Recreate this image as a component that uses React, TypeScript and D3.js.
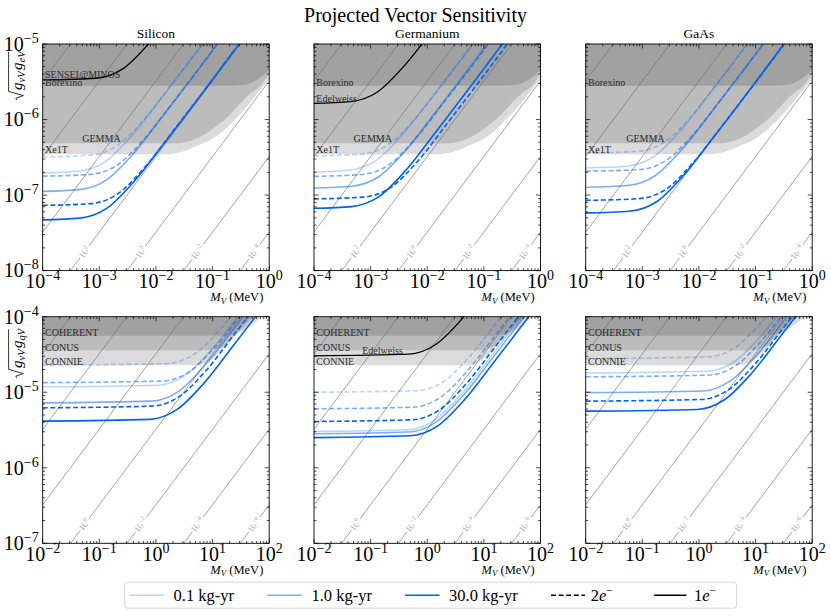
import React, { useLayoutEffect, useRef, useState } from "react";
import * as d3 from "d3";

type Pt = [number, number];

const W = 831;
const H = 616;
const FONT = "'Liberation Serif', 'DejaVu Serif', serif";

// ---------- axes ----------
const topXDomain: Pt = [1e-4, 1];
const topYDomain: Pt = [1e-8, 1e-5];
const botXDomain: Pt = [1e-2, 1e2];
const botYDomain: Pt = [1e-7, 1e-4];

// ---------- panel titles / legend labels ----------
const materials = ["Silicon", "Germanium", "GaAs"];
const exposures = ["0.1 kg-yr", "1.0 kg-yr", "30.0 kg-yr"];
const thresholds = ["2", "1"]; // 2e-, 1e-

// ---------- iso lines (ratio g/M_V) and their labels ----------
const isoTop = [3.24e-2, 3.24e-3, 3.24e-4, 3.24e-5, 3.24e-6, 3.24e-7, 3.24e-8];
const isoTopLabels: [number, string][] = [[3.24e-5, "2"], [3.24e-6, "0"], [3.24e-7, "−2"], [3.24e-8, "−4"]];
const isoBot = [3.24e-3, 3.24e-4, 3.24e-5, 3.24e-6, 3.24e-7, 3.24e-8, 3.24e-9];
const isoBotLabels: [number, string][] = [[3.24e-6, "0"], [3.24e-7, "−2"], [3.24e-8, "−4"], [3.24e-9, "−6"]];

// ---------- existing constraints (lower boundaries of excluded regions) ----------
const borexino: Pt[] = [[1e-4, 2.8e-6], [0.2, 2.8e-6], [0.35, 2.86e-6], [0.5, 3.1e-6], [0.7, 3.6e-6], [1, 4.55e-6]];
const gemma: Pt[] = [[1e-4, 4.87e-7], [2.5e-2, 4.87e-7], [4e-2, 5.2e-7], [6.3e-2, 6.0e-7], [0.119, 8.3e-7], [0.2, 1.15e-6], [0.31, 1.64e-6], [0.46, 2.2e-6], [0.69, 2.75e-6], [1, 4.1e-6]];
const xe1t: Pt[] = [[1e-4, 3.48e-7], [1.58e-2, 3.48e-7], [2.8e-2, 3.72e-7], [5.6e-2, 4.57e-7], [0.117, 6.03e-7], [0.224, 9.3e-7], [0.4, 1.48e-6], [0.69, 2.45e-6], [1, 3.39e-6]];
const coherent: Pt[] = [[1e-2, 5.6e-5], [15, 5.6e-5], [25, 6.0e-5], [40, 7.0e-5], [60, 8.8e-5], [72, 1.0e-4]];
const conus: Pt[] = [[1e-2, 3.6e-5], [8, 3.6e-5], [14, 3.9e-5], [22, 5.0e-5], [40, 7.8e-5], [55, 1.0e-4]];
const connie: Pt[] = [[1e-2, 2.28e-5], [5, 2.28e-5], [8, 2.5e-5], [13.6, 3.4e-5], [27, 6.3e-5], [50, 1.0e-4]];

// ---------- 1e- curves (black) ----------
const senseiMinosSi: Pt[] = [[1e-4, 3.34e-6], [8.8e-4, 3.52e-6], [2.63e-3, 4.72e-6], [7.9e-3, 1.06e-5], [2.63e-2, 3.34e-5]];
const edelweissGeTop: Pt[] = [[1e-4, 1.64e-6], [4.4e-4, 1.73e-6], [1.32e-3, 2.32e-6], [3.96e-3, 5.18e-6], [1.32e-2, 1.64e-5]];
const edelweissGeBot: Pt[] = [[1e-2, 3.03e-5], [0.47, 3.19e-5], [1.41, 4.28e-5], [4.23, 9.57e-5], [14.1, 3.03e-4]];

// ---------- projected sensitivities: electron couplings (top row) ----------
const siTopLight: Pt[] = [[1e-4, 1.96e-7], [4.2e-4, 2.07e-7], [1.27e-3, 2.77e-7], [3.8e-3, 6.2e-7], [1.27e-2, 1.96e-6], [1.27, 1.96e-4]];
const siTopLight2e: Pt[] = [[1e-4, 3.2e-7], [6.9e-4, 3.37e-7], [2.07e-3, 4.52e-7], [6.2e-3, 1.01e-6], [2.07e-2, 3.2e-6], [2.07, 3.2e-4]];
const siTopMed: Pt[] = [[1e-4, 1.12e-7], [4.4e-4, 1.18e-7], [1.33e-3, 1.58e-7], [4.0e-3, 3.54e-7], [1.33e-2, 1.12e-6], [1.33, 1.12e-4]];
const siTopMed2e: Pt[] = [[1e-4, 1.78e-7], [7.0e-4, 1.88e-7], [2.11e-3, 2.52e-7], [6.3e-3, 5.62e-7], [2.11e-2, 1.78e-6], [2.11, 1.78e-4]];
const siTopDark: Pt[] = [[1e-4, 4.7e-8], [4.5e-4, 4.95e-8], [1.35e-3, 6.65e-8], [4.05e-3, 1.49e-7], [1.35e-2, 4.7e-7], [1.35, 4.7e-5]];
const siTopDark2e: Pt[] = [[1e-4, 7.3e-8], [7.0e-4, 7.7e-8], [2.09e-3, 1.03e-7], [6.3e-3, 2.31e-7], [2.09e-2, 7.3e-7], [2.09, 7.3e-5]];

const geTopLight: Pt[] = [[1e-4, 2.02e-7], [4.1e-4, 2.13e-7], [1.24e-3, 2.86e-7], [3.7e-3, 6.4e-7], [1.24e-2, 2.02e-6], [1.24, 2.02e-4]];
const geTopLight2e: Pt[] = [[1e-4, 3.3e-7], [6.9e-4, 3.48e-7], [2.08e-3, 4.67e-7], [6.2e-3, 1.04e-6], [2.08e-2, 3.3e-6], [2.08, 3.3e-4]];
const geTopMed: Pt[] = [[1e-4, 1.24e-7], [4.6e-4, 1.31e-7], [1.39e-3, 1.75e-7], [4.2e-3, 3.92e-7], [1.39e-2, 1.24e-6], [1.39, 1.24e-4]];
const geTopMed2e: Pt[] = [[1e-4, 1.77e-7], [6.9e-4, 1.87e-7], [2.08e-3, 2.5e-7], [6.2e-3, 5.6e-7], [2.08e-2, 1.77e-6], [2.08, 1.77e-4]];
const geTopDark: Pt[] = [[1e-4, 6.68e-8], [4.6e-4, 7.04e-8], [1.38e-3, 9.45e-8], [4.14e-3, 2.11e-7], [1.38e-2, 6.68e-7], [1.38, 6.68e-5]];
const geTopDark2e: Pt[] = [[1e-4, 8.9e-8], [7.5e-4, 9.4e-8], [2.26e-3, 1.26e-7], [6.8e-3, 2.81e-7], [2.26e-2, 8.9e-7], [2.26, 8.9e-5]];

const gaTopLight: Pt[] = [[1e-4, 2.29e-7], [5.3e-4, 2.41e-7], [1.6e-3, 3.24e-7], [4.8e-3, 7.24e-7], [1.6e-2, 2.29e-6], [1.6, 2.29e-4]];
const gaTopLight2e: Pt[] = [[1e-4, 3.6e-7], [8.4e-4, 3.79e-7], [2.52e-3, 5.09e-7], [7.6e-3, 1.14e-6], [2.52e-2, 3.6e-6], [2.52, 3.6e-4]];
const gaTopMed: Pt[] = [[1e-4, 1.27e-7], [5.6e-4, 1.34e-7], [1.68e-3, 1.8e-7], [5.0e-3, 4.01e-7], [1.68e-2, 1.27e-6], [1.68, 1.27e-4]];
const gaTopMed2e: Pt[] = [[1e-4, 2.07e-7], [9.1e-4, 2.18e-7], [2.74e-3, 2.93e-7], [8.2e-3, 6.54e-7], [2.74e-2, 2.07e-6], [2.74, 2.07e-4]];
const gaTopDark: Pt[] = [[1e-4, 5.81e-8], [6.0e-4, 6.12e-8], [1.81e-3, 8.22e-8], [5.4e-3, 1.84e-7], [1.81e-2, 5.81e-7], [1.81, 5.81e-5]];
const gaTopDark2e: Pt[] = [[1e-4, 8.51e-8], [8.8e-4, 8.97e-8], [2.65e-3, 1.2e-7], [7.9e-3, 2.69e-7], [2.65e-2, 8.51e-7], [2.65, 8.51e-5]];

// ---------- projected sensitivities: quark couplings (bottom row) ----------
const siBotLight: Pt[] = [[1e-2, 1.18e-5], [1.09, 1.24e-5], [3.27, 1.67e-5], [9.8, 3.73e-5], [32.7, 1.18e-4], [3270, 1.18e-2]];
const siBotLight2e: Pt[] = [[1e-2, 2.28e-5], [1.61, 2.4e-5], [4.83, 3.22e-5], [14.5, 7.2e-5], [48.3, 2.28e-4], [4830, 2.28e-2]];
const siBotMed: Pt[] = [[1e-2, 7.24e-6], [0.82, 7.63e-6], [2.47, 1.02e-5], [7.4, 2.29e-5], [24.7, 7.24e-5], [2470, 7.24e-3]];
const siBotMed2e: Pt[] = [[1e-2, 1.34e-5], [1.32, 1.41e-5], [3.96, 1.89e-5], [11.9, 4.23e-5], [39.6, 1.34e-4], [3960, 1.34e-2]];
const siBotDark: Pt[] = [[1e-2, 4.15e-6], [0.78, 4.37e-6], [2.33, 5.87e-6], [7.0, 1.31e-5], [23.3, 4.15e-5], [2330, 4.15e-3]];
const siBotDark2e: Pt[] = [[1e-2, 6.22e-6], [0.86, 6.56e-6], [2.59, 8.8e-6], [7.8, 1.97e-5], [25.9, 6.22e-5], [2590, 6.22e-3]];

const geBotLight: Pt[] = [[1e-2, 3.02e-6], [0.45, 3.18e-6], [1.35, 4.27e-6], [4.05, 9.54e-6], [13.5, 3.02e-5], [1350, 3.02e-3]];
const geBotLight2e: Pt[] = [[1e-2, 1.0e-5], [0.67, 1.05e-5], [2.0, 1.41e-5], [6.0, 3.16e-5], [20, 1.0e-4], [2000, 1.0e-2]];
const geBotMed: Pt[] = [[1e-2, 2.82e-6], [0.47, 2.97e-6], [1.41, 3.99e-6], [4.23, 8.91e-6], [14.1, 2.82e-5], [1410, 2.82e-3]];
const geBotMed2e: Pt[] = [[1e-2, 6.03e-6], [0.57, 6.36e-6], [1.7, 8.53e-6], [5.1, 1.91e-5], [17, 6.03e-5], [1700, 6.03e-3]];
const geBotDark: Pt[] = [[1e-2, 2.51e-6], [0.5, 2.65e-6], [1.51, 3.55e-6], [4.53, 7.93e-6], [15.1, 2.51e-5], [1510, 2.51e-3]];
const geBotDark2e: Pt[] = [[1e-2, 4.1e-6], [0.54, 4.32e-6], [1.63, 5.8e-6], [4.9, 1.3e-5], [16.3, 4.1e-5], [1630, 4.1e-3]];

const gaBotLight: Pt[] = [[1e-2, 1.8e-5], [1.43, 1.9e-5], [4.28, 2.55e-5], [12.8, 5.69e-5], [42.8, 1.8e-4], [4280, 1.8e-2]];
const gaBotLight2e: Pt[] = [[1e-2, 2.79e-5], [1.47, 2.94e-5], [4.42, 3.95e-5], [13.3, 8.82e-5], [44.2, 2.79e-4], [4420, 2.79e-2]];
const gaBotMed: Pt[] = [[1e-2, 9.9e-6], [1.17, 1.04e-5], [3.52, 1.4e-5], [10.6, 3.13e-5], [35.2, 9.9e-5], [3520, 9.9e-3]];
const gaBotMed2e: Pt[] = [[1e-2, 1.6e-5], [1.5, 1.69e-5], [4.5, 2.26e-5], [13.5, 5.06e-5], [45, 1.6e-4], [4500, 1.6e-2]];
const gaBotDark: Pt[] = [[1e-2, 5.62e-6], [0.94, 5.92e-6], [2.82, 7.95e-6], [8.5, 1.78e-5], [28.2, 5.62e-5], [2820, 5.62e-3]];
const gaBotDark2e: Pt[] = [[1e-2, 7.62e-6], [1.11, 8.03e-6], [3.33, 1.08e-5], [10, 2.41e-5], [33.3, 7.62e-5], [3330, 7.62e-3]];

// ---------- styling ----------
const BLUE = "rgb(0,98,240)";
const toneOpacity = [0.27, 0.52, 1];
const colLeft = [42.7, 314, 585.7];
const rowTop = [44, 316.7];
const PW = 226.5;
const PH = 226.6;

type Curve = { pts: Pt[]; tone: number; dashed: boolean };
type PanelSpec = {
  row: number;
  col: number;
  regions: Pt[][];
  curves: Curve[];
  black?: Pt[];
  labels: { text: string; at: Pt }[];
};

const mk = (l: Pt[], l2: Pt[], m: Pt[], m2: Pt[], d: Pt[], d2: Pt[]): Curve[] => [
  { pts: l, tone: 0, dashed: false },
  { pts: l2, tone: 0, dashed: true },
  { pts: m, tone: 1, dashed: false },
  { pts: m2, tone: 1, dashed: true },
  { pts: d2, tone: 2, dashed: true },
  { pts: d, tone: 2, dashed: false },
];

const topRegions = [xe1t, gemma, borexino];
const botRegions = [connie, conus, coherent];

const panels: PanelSpec[] = [
  {
    row: 0, col: 0, regions: topRegions,
    curves: mk(siTopLight, siTopLight2e, siTopMed, siTopMed2e, siTopDark, siTopDark2e),
    black: senseiMinosSi,
    labels: [
      { text: "SENSEI@MINOS", at: [1.1e-4, 3.5e-6] },
      { text: "Borexino", at: [1.1e-4, 2.82e-6] },
      { text: "GEMMA", at: [5e-4, 5.1e-7] },
      { text: "Xe1T", at: [1.1e-4, 3.62e-7] },
    ],
  },
  {
    row: 0, col: 1, regions: topRegions,
    curves: mk(geTopLight, geTopLight2e, geTopMed, geTopMed2e, geTopDark, geTopDark2e),
    black: edelweissGeTop,
    labels: [
      { text: "Borexino", at: [1.1e-4, 2.82e-6] },
      { text: "Edelweiss", at: [1.1e-4, 1.72e-6] },
      { text: "GEMMA", at: [5e-4, 5.1e-7] },
      { text: "Xe1T", at: [1.1e-4, 3.62e-7] },
    ],
  },
  {
    row: 0, col: 2, regions: topRegions,
    curves: mk(gaTopLight, gaTopLight2e, gaTopMed, gaTopMed2e, gaTopDark, gaTopDark2e),
    labels: [
      { text: "Borexino", at: [1.1e-4, 2.82e-6] },
      { text: "GEMMA", at: [5.2e-4, 5.1e-7] },
      { text: "Xe1T", at: [1.1e-4, 3.62e-7] },
    ],
  },
  {
    row: 1, col: 0, regions: botRegions,
    curves: mk(siBotLight, siBotLight2e, siBotMed, siBotMed2e, siBotDark, siBotDark2e),
    labels: [
      { text: "COHERENT", at: [1.1e-2, 5.5e-5] },
      { text: "CONUS", at: [1.1e-2, 3.55e-5] },
      { text: "CONNIE", at: [1.1e-2, 2.32e-5] },
    ],
  },
  {
    row: 1, col: 1, regions: botRegions,
    curves: mk(geBotLight, geBotLight2e, geBotMed, geBotMed2e, geBotDark, geBotDark2e),
    black: edelweissGeBot,
    labels: [
      { text: "COHERENT", at: [1.1e-2, 5.5e-5] },
      { text: "CONUS", at: [1.1e-2, 3.55e-5] },
      { text: "CONNIE", at: [1.1e-2, 2.32e-5] },
      { text: "Edelweiss", at: [7.1e-2, 3.2e-5] },
    ],
  },
  {
    row: 1, col: 2, regions: botRegions,
    curves: mk(gaBotLight, gaBotLight2e, gaBotMed, gaBotMed2e, gaBotDark, gaBotDark2e),
    labels: [
      { text: "COHERENT", at: [1.1e-2, 5.5e-5] },
      { text: "CONUS", at: [1.1e-2, 3.55e-5] },
      { text: "CONNIE", at: [1.1e-2, 2.32e-5] },
    ],
  },
];

const expStr = (e: number) => (e < 0 ? "−" + Math.abs(e) : String(e));

function Panel({ spec }: { spec: PanelSpec }) {
  const { row, col } = spec;
  const L = colLeft[col];
  const T = rowTop[row];
  const xd = row === 0 ? topXDomain : botXDomain;
  const yd = row === 0 ? topYDomain : botYDomain;
  const x = d3.scaleLog().domain(xd).range([L, L + PW]);
  const y = d3.scaleLog().domain(yd).range([T + PH, T]);
  const line = d3.line<Pt>().x((d) => x(d[0])).y((d) => y(d[1])).curve(d3.curveMonotoneX);
  const straight = d3.line<Pt>().x((d) => x(d[0])).y((d) => y(d[1]));
  const area = d3.area<Pt>().x((d) => x(d[0])).y0(T).y1((d) => y(d[1])).curve(d3.curveMonotoneX);
  const clipId = `clip-${row}-${col}`;
  const iso = row === 0 ? isoTop : isoBot;
  const isoLabels = row === 0 ? isoTopLabels : isoBotLabels;
  const labelY = row === 0 ? 1.75e-8 : 1.75e-7;

  const decade = (d: Pt) => {
    const out: number[] = [];
    for (let e = Math.round(Math.log10(d[0])); e <= Math.round(Math.log10(d[1])); e++) out.push(e);
    return out;
  };
  const minors = (d: Pt) => {
    const out: number[] = [];
    for (let e = Math.round(Math.log10(d[0])); e < Math.round(Math.log10(d[1])); e++)
      for (let k = 2; k <= 9; k++) out.push(k * Math.pow(10, e));
    return out;
  };
  const xMaj = decade(xd);
  const yMaj = decade(yd);
  const xMin = minors(xd);
  const yMin = minors(yd);
  const MJ = 4.5;
  const MN = 2.4;
  const tickStyle = { stroke: "#000", strokeWidth: 0.7 };

  return (
    <g>
      <defs>
        <clipPath id={clipId}>
          <rect x={L} y={T} width={PW} height={PH} />
        </clipPath>
      </defs>
      <g clipPath={`url(#${clipId})`}>
        {spec.regions.map((r, i) => (
          <path key={"r" + i} d={area(r) || ""} fill="#000" fillOpacity={0.14} stroke="none" />
        ))}
        {iso.map((r, i) => (
          <path
            key={"iso" + i}
            d={straight([[xd[0], r * xd[0]], [xd[1], r * xd[1]]]) || ""}
            fill="none"
            stroke="#707070"
            strokeWidth={0.65}
          />
        ))}
        {isoLabels.map(([r, lab], i) => {
          const px = x(labelY / r);
          const py = y(labelY);
          const ang =
            (Math.atan2(y(r * xd[1]) - y(r * xd[0]), x(xd[1]) - x(xd[0])) * 180) / Math.PI;
          return (
            <text
              key={"il" + i}
              transform={`translate(${px},${py}) rotate(${ang})`}
              textAnchor="middle"
              y={3}
              fontSize={9}
              fill="#a6a6a6"
              stroke="#fff"
              strokeWidth={4.5}
              strokeLinejoin="round"
              style={{ paintOrder: "stroke" }}
            >
              10<tspan fontSize={6.3} dy={-3.6}>{lab}</tspan>
            </text>
          );
        })}
        {spec.curves.map((c, i) => (
          <path
            key={"c" + i}
            d={line(c.pts) || ""}
            fill="none"
            stroke={BLUE}
            strokeOpacity={toneOpacity[c.tone]}
            strokeWidth={1.6}
            strokeDasharray={c.dashed ? "5,2.6" : undefined}
          />
        ))}
        {spec.black && (
          <path d={line(spec.black) || ""} fill="none" stroke="#000" strokeWidth={1.3} />
        )}
      </g>
      {spec.labels.map((lb, i) => (
        <text key={"lb" + i} x={x(lb.at[0])} y={y(lb.at[1])} fontSize={10} fill="#2a2a2a">
          {lb.text}
        </text>
      ))}
      <rect x={L} y={T} width={PW} height={PH} fill="none" stroke="#000" strokeWidth={0.9} />
      {/* ticks */}
      {xMaj.map((e) => {
        const px = x(Math.pow(10, e));
        return (
          <g key={"xM" + e}>
            <line x1={px} x2={px} y1={T + PH} y2={T + PH - MJ} {...tickStyle} />
            <line x1={px} x2={px} y1={T} y2={T + MJ} {...tickStyle} />
          </g>
        );
      })}
      {xMin.map((v, i) => {
        const px = x(v);
        return (
          <g key={"xm" + i}>
            <line x1={px} x2={px} y1={T + PH} y2={T + PH - MN} {...tickStyle} />
            <line x1={px} x2={px} y1={T} y2={T + MN} {...tickStyle} />
          </g>
        );
      })}
      {yMaj.map((e) => {
        const py = y(Math.pow(10, e));
        return (
          <g key={"yM" + e}>
            <line x1={L} x2={L + MJ} y1={py} y2={py} {...tickStyle} />
            <line x1={L + PW} x2={L + PW - MJ} y1={py} y2={py} {...tickStyle} />
          </g>
        );
      })}
      {yMin.map((v, i) => {
        const py = y(v);
        return (
          <g key={"ym" + i}>
            <line x1={L} x2={L + MN} y1={py} y2={py} {...tickStyle} />
            <line x1={L + PW} x2={L + PW - MN} y1={py} y2={py} {...tickStyle} />
          </g>
        );
      })}
      {/* tick labels */}
      {xMaj.map((e) => (
        <text key={"xl" + e} x={x(Math.pow(10, e))} y={T + PH + 17.5} textAnchor="middle" fontSize={20}>
          10<tspan fontSize={14} dy={-8}>{expStr(e)}</tspan>
        </text>
      ))}
      {col === 0 &&
        yMaj.map((e) => (
          <text key={"yl" + e} x={L - 4} y={y(Math.pow(10, e)) + 6.8} textAnchor="end" fontSize={20}>
            10<tspan fontSize={14} dy={-8}>{expStr(e)}</tspan>
          </text>
        ))}
      {/* axis label */}
      <text x={L + 220.6} y={T + PH + 30.5} textAnchor="end" fontSize={12.5}>
        <tspan fontStyle="italic">M</tspan>
        <tspan fontStyle="italic" fontSize={9} dy={2.5}>V</tspan>
        <tspan dy={-2.5}> (MeV)</tspan>
      </text>
      {row === 0 && (
        <text x={L + PW / 2} y={37.5} textAnchor="middle" fontSize={13.5}>
          {materials[col]}
        </text>
      )}
    </g>
  );
}

function SqrtLabel({ x, y, sub }: { x: number; y: number; sub: string }) {
  const ref = useRef<SVGTextElement>(null);
  const [w, setW] = useState(42);
  useLayoutEffect(() => {
    if (ref.current) setW(ref.current.getComputedTextLength());
  }, []);
  return (
    <g transform={`translate(${x},${y}) rotate(-90)`}>
      <path
        d={`M0,-5 L1.8,-6.2 L4.4,1.4 L8.6,-13.4 H${10 + w + 1}`}
        fill="none"
        stroke="#000"
        strokeWidth={0.8}
      />
      <text ref={ref} x={10} y={0} fontSize={15} fontStyle="italic">
        g<tspan fontSize={10.5} dy={3}>νV</tspan>
        <tspan dy={-3} dx={1.5}>g</tspan>
        <tspan fontSize={10.5} dy={3}>{sub}V</tspan>
      </text>
    </g>
  );
}

function Legend() {
  const ly = 595.2;
  const ty = 600.8;
  const handles: [number, number][] = [[129.6, 164], [267.3, 301.8], [405, 439.6], [551, 585], [653.9, 686.4]];
  const texts = [173.6, 311.4, 449, 590.7, 694];
  return (
    <g>
      <rect x={124.6} y={582.2} width={612} height={26} rx={3} fill="#fff" stroke="#cccccc" strokeWidth={0.8} />
      {exposures.map((e, i) => (
        <g key={e}>
          <line
            x1={handles[i][0]}
            x2={handles[i][1]}
            y1={ly}
            y2={ly}
            stroke={BLUE}
            strokeOpacity={toneOpacity[i]}
            strokeWidth={1.6}
          />
          <text x={texts[i]} y={ty} fontSize={16.5}>{e}</text>
        </g>
      ))}
      {thresholds.map((t, j) => {
        const i = j + 3;
        return (
          <g key={t}>
            <line
              x1={handles[i][0]}
              x2={handles[i][1]}
              y1={ly}
              y2={ly}
              stroke="#000"
              strokeWidth={1.6}
              strokeDasharray={j === 0 ? "5,2.6" : undefined}
            />
            <text x={texts[i]} y={ty} fontSize={16.5}>
              {t}
              <tspan fontStyle="italic">e</tspan>
              <tspan fontSize={11.5} dy={-7}>−</tspan>
            </text>
          </g>
        );
      })}
    </g>
  );
}

export default function App() {
  return (
    <svg
      width={W}
      height={H}
      viewBox={`0 0 ${W} ${H}`}
      style={{ position: "absolute", left: 0, top: 0, background: "#fff" }}
      fontFamily={FONT}
    >
      <rect width={W} height={H} fill="#fff" />
      <text x={415.5} y={22} textAnchor="middle" fontSize={20}>
        Projected Vector Sensitivity
      </text>
      {panels.map((p) => (
        <Panel key={`${p.row}-${p.col}`} spec={p} />
      ))}
      <SqrtLabel x={22} y={100} sub="e" />
      <SqrtLabel x={22} y={378} sub="q" />
      <Legend />
    </svg>
  );
}
